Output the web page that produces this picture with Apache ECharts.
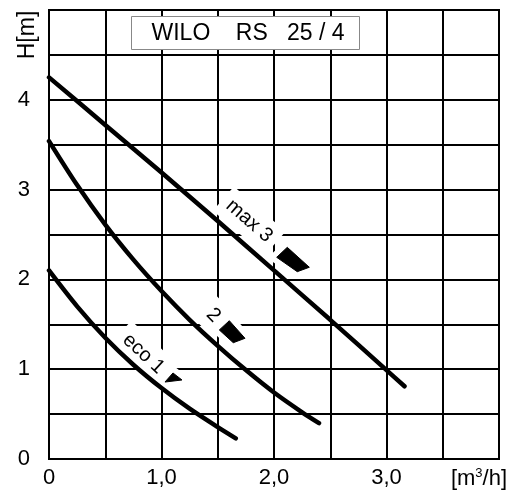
<!DOCTYPE html>
<html><head><meta charset="utf-8">
<script src="https://cdn.jsdelivr.net/npm/echarts@6/dist/echarts.min.js"></script>
<style>html,body{margin:0;padding:0;background:#fff}#c{width:520px;height:499px}</style>
</head><body><div id="c"></div>
<script>
// Pump curves (flow Q [m3/h], head H [m])
const flowMax3 = [0, 0.5, 1.0, 1.5, 2.0, 2.5, 3.0, 3.16];
const headMax3 = [4.25, 3.72, 3.19, 2.65, 2.1, 1.55, 0.99, 0.81];
const flow2 = [0, 0.25, 0.5, 0.75, 1.0, 1.25, 1.5, 1.75, 2.0, 2.25, 2.4];
const head2 = [3.54, 3.05, 2.61, 2.22, 1.87, 1.55, 1.26, 0.99, 0.74, 0.52, 0.40];
const flowEco = [0, 0.25, 0.5, 0.75, 1.0, 1.25, 1.5, 1.66];
const headEco = [2.1, 1.7, 1.35, 1.05, 0.79, 0.56, 0.355, 0.23];
const curveNames = ['max 3', '2', 'eco 1'];
// label anchor positions in data units
const labelPos = [[1.78, 2.65], [1.46, 1.60], [0.84, 1.17]];
// marker shapes in data units
const markerMax3 = [[2.024, 2.246], [2.118, 2.357], [2.314, 2.135], [2.207, 2.086]];
const marker2 = [[1.514, 1.437], [1.603, 1.540], [1.742, 1.344], [1.638, 1.295]];
const markerEco = [[1.031, 0.857], [1.102, 0.958], [1.182, 0.880]];
const title = 'WILO    RS   25 / 4';
const yUnit = 'H[m]';

const FONT = '"Liberation Sans", Arial, sans-serif';
const zip = (a, b) => a.map((v, i) => [v, b[i]]);

const chart = echarts.init(document.getElementById('c'), null, {renderer: 'canvas'});
const lineSeries = (data) => ({
  type: 'line', data: data, smooth: 0.3, symbol: 'none', z: 2,
  lineStyle: {color: '#000', width: 4.5, cap: 'round'}
});
chart.setOption({
  animation: false,
  grid: {left: 49, right: 21, top: 10, bottom: 40, show: true, borderColor: '#000', borderWidth: 2, backgroundColor: 'transparent'},
  xAxis: {
    type: 'value', min: 0, max: 4, interval: 0.5,
    axisLine: {show: false}, axisTick: {show: false},
    splitLine: {show: true, lineStyle: {color: '#000', width: 2}},
    axisLabel: {
      margin: 8, color: '#000', fontFamily: FONT, fontSize: 22,
      formatter: function (v) {
        if (v === 0) return '0';
        if (v === 4) return '{u|[m}{s|3}{e|/h]}';
        if (Number.isInteger(v)) return v.toFixed(1).replace('.', ',');
        return '';
      },
      rich: {
        u: {fontFamily: FONT, fontSize: 22, color: '#000'},
        s: {fontFamily: FONT, fontSize: 13, color: '#000', verticalAlign: 'top', padding: [0, 0, 10, 0]},
        e: {fontFamily: FONT, fontSize: 22, color: '#000', padding: [0, 40, 0, 0]}
      }
    }
  },
  yAxis: {
    type: 'value', min: 0, max: 5, interval: 0.5,
    axisLine: {show: false}, axisTick: {show: false},
    splitLine: {show: true, lineStyle: {color: '#000', width: 2}},
    axisLabel: {
      margin: 19, color: '#000', fontFamily: FONT, fontSize: 22,
      formatter: function (v) { return (Number.isInteger(v) && v < 5) ? String(v) : ''; }
    }
  },
  series: [
    lineSeries(zip(flowMax3, headMax3)),
    lineSeries(zip(flow2, head2)),
    lineSeries(zip(flowEco, headEco))
  ]
});

function px(p) { return chart.convertToPixel({gridIndex: 0}, p); }
const angles = [-41, -45, -43].map(d => d * Math.PI / 180);
const graphics = [];
// title box
graphics.push({type: 'rect', z: 5, shape: {x: 131.5, y: 16.5, width: 228, height: 33}, style: {fill: '#fff', stroke: '#888', lineWidth: 1}});
graphics.push({type: 'text', z: 6, x: 248, y: 34, style: {text: title, font: '23px ' + FONT, fill: '#000', textAlign: 'center', textVerticalAlign: 'middle', align: 'center', verticalAlign: 'middle'}});
// y unit rotated
graphics.push({type: 'text', z: 6, x: 28, y: 35, rotation: Math.PI / 2, style: {text: yUnit, font: '23px ' + FONT, fill: '#000', textAlign: 'center', textVerticalAlign: 'middle', align: 'center', verticalAlign: 'middle'}});
// curve labels
curveNames.forEach((name, i) => {
  const p = px(labelPos[i]);
  graphics.push({type: 'text', z: 1, x: p[0], y: p[1], rotation: angles[i],
    style: {text: name, font: '20px ' + FONT, fill: '#000', textAlign: 'center', textVerticalAlign: 'middle', align: 'center', verticalAlign: 'middle', backgroundColor: '#fff', padding: [6, 7]}});
});
[markerMax3, marker2, markerEco].forEach(m => {
  const pts = m.map(px);
  graphics.push({type: 'polygon', z: 1, shape: {points: pts}, style: {fill: '#fff', stroke: '#fff', lineWidth: 12}});
  graphics.push({type: 'polygon', z: 3, shape: {points: pts}, style: {fill: '#000', stroke: '#000', lineWidth: 1}});
});
chart.setOption({graphic: {elements: graphics}});
</script></body></html>
